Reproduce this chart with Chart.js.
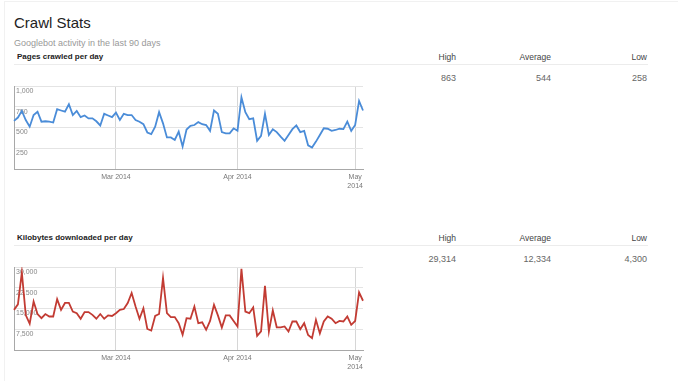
<!DOCTYPE html>
<html>
<head>
<meta charset="utf-8">
<script src="https://cdn.jsdelivr.net/npm/chart.js@4.4.0/dist/chart.umd.min.js"></script>
<style>
  html, body { margin: 0; padding: 0; background: #fff; }
  body { width: 678px; height: 381px; position: relative; overflow: hidden;
         font-family: Arial, "Liberation Sans", sans-serif; }
  .abs { position: absolute; white-space: nowrap; }
  #frame { left: 4px; top: 1px; width: 700px; height: 400px;
           border-left: 1px solid #f1f1f1; border-top: 1px solid #f1f1f1; }
  .title { left: 14px; top: 15px; font-size: 15px; line-height: 15px; color: #222; }
  .sub { left: 14px; top: 39px; font-size: 9px; line-height: 9px; color: #999; }
  .sect { left: 17px; font-size: 8px; line-height: 8px; font-weight: bold; color: #222; }
  .sep { left: 14px; width: 634px; height: 1px; background: #ececec; }
  .hd { font-size: 8.5px; line-height: 8.5px; color: #444; width: 100px; text-align: right; }
  .val { font-size: 9px; line-height: 9px; color: #666; width: 100px; text-align: right; }
  canvas { position: absolute; left: 0; }
</style>
</head>
<body>
<div id="frame" class="abs"></div>
<div class="abs title">Crawl Stats</div>
<div class="abs sub">Googlebot activity in the last 90 days</div>

<div class="abs sect" style="top:53px">Pages crawled per day</div>
<div class="abs sep" style="top:64px"></div>
<div class="abs hd" style="left:356px;top:53px">High</div>
<div class="abs hd" style="left:451px;top:53px">Average</div>
<div class="abs hd" style="left:547px;top:53px">Low</div>
<div class="abs val" id="p_high" style="left:356px;top:73.5px"></div>
<div class="abs val" id="p_avg" style="left:451px;top:73.5px"></div>
<div class="abs val" id="p_low" style="left:547px;top:73.5px"></div>
<canvas id="c1" width="380" height="115" style="top:80px"></canvas>

<div class="abs sect" style="top:234px">Kilobytes downloaded per day</div>
<div class="abs sep" style="top:245px"></div>
<div class="abs hd" style="left:356px;top:234px">High</div>
<div class="abs hd" style="left:451px;top:234px">Average</div>
<div class="abs hd" style="left:547px;top:234px">Low</div>
<div class="abs val" id="k_high" style="left:356px;top:254.5px"></div>
<div class="abs val" id="k_avg" style="left:451px;top:254.5px"></div>
<div class="abs val" id="k_low" style="left:547px;top:254.5px"></div>
<canvas id="c2" width="380" height="115" style="top:261px"></canvas>

<script>
// ---- data ----
const startDate = "2014-02-03";           // first day shown
const pagesPerDay = [
  580, 620, 700, 590, 510, 650, 690, 570, 575, 570,
  560, 720, 705, 690, 780, 650, 700, 625, 645, 610,
  610, 575, 525, 665, 645, 625, 680, 590, 665, 650,
  650, 590, 570, 540, 440, 420, 510, 685, 550, 380,
  380, 350, 450, 270, 475, 520, 530, 565, 540, 530,
  460, 705, 665, 445, 430, 430, 490, 460, 863, 685,
  600, 610, 340, 400, 665, 410, 480, 445, 390, 340,
  410, 480, 525, 445, 460, 285, 258, 330, 410, 490,
  485, 460, 470, 485, 480, 570, 460, 530, 820, 705
];
const kbPerDay = [
  14500, 16500, 28000, 12600, 9500, 17500, 13000, 11500, 13000, 12100,
  12100, 18400, 14500, 17000, 17000, 13900, 13300, 11300, 13700, 13700,
  12700, 11300, 13000, 11300, 12500, 12300, 13300, 14500, 14800, 17000,
  20600, 15700, 11300, 15100, 7600, 7000, 12300, 13000, 26000, 13300,
  11900, 11900, 9700, 5500, 11500, 11300, 15700, 9700, 10000, 7300,
  10500, 16300, 12500, 8100, 12500, 12500, 10500, 8500, 29314, 13900,
  13300, 15400, 5100, 6700, 23200, 6700, 14300, 8200, 8200, 8500,
  6700, 10300, 10300, 7500, 9700, 5400, 4300, 10900, 6000, 10300,
  12100, 11300, 9700, 10500, 10300, 12100, 9100, 10500, 20800, 17800
];
const pagesSummary = ["863", "544", "258"];       // High, Average, Low
const kbSummary = ["29,314", "12,334", "4,300"];
const monthTickIndex = [26, 57, 87];              // Mar 1, Apr 1, May 1
const monthTickLabels = ["Mar 2014", "Apr 2014", ["May", "2014"]];
const pagesYTicks = [0, 250, 500, 750, 1000];
const kbYTicks = [0, 7500, 15000, 22500, 30000];

// ---- categories (one per day) ----
const days = [];
{
  const d0 = new Date(startDate + "T00:00:00Z");
  for (let i = 0; i < pagesPerDay.length; i++) {
    const d = new Date(d0.getTime() + i * 86400000);
    days.push(d.toISOString().slice(0, 10));
  }
}

document.getElementById('p_high').textContent = pagesSummary[0];
document.getElementById('p_avg').textContent = pagesSummary[1];
document.getElementById('p_low').textContent = pagesSummary[2];
document.getElementById('k_high').textContent = kbSummary[0];
document.getElementById('k_avg').textContent = kbSummary[1];
document.getElementById('k_low').textContent = kbSummary[2];

const FONT = 'Arial, "Liberation Sans", sans-serif';

function makeChart(id, values, color, yTicks) {
  return new Chart(document.getElementById(id), {
    type: 'line',
    data: {
      labels: days,
      datasets: [{
        data: values,
        borderColor: color,
        borderWidth: 1.8,
        pointRadius: 0,
        pointHoverRadius: 0,
        tension: 0,
        fill: false
      }]
    },
    options: {
      responsive: false,
      animation: false,
      events: [],
      layout: { padding: { left: 14, right: 17, top: 6, bottom: 0 } },
      plugins: { legend: { display: false }, tooltip: { enabled: false } },
      scales: {
        x: {
          type: 'category',
          offset: false,
          afterBuildTicks: (s) => { s.ticks = monthTickIndex.map(v => ({ value: v })); },
          afterFit: (s) => { s.height = 26; s.paddingLeft = 0; s.paddingRight = 0; },
          grid: { color: '#d6d6d6', drawTicks: false, lineWidth: 1 },
          border: { color: '#a8a8a8', width: 1 },
          ticks: {
            autoSkip: false, maxRotation: 0, minRotation: 0,
            padding: 4,
            color: '#777',
            font: { family: FONT, size: 7, lineHeight: 1.25 },
            callback: (v, i) => monthTickLabels[i]
          }
        },
        y: {
          min: yTicks[0],
          max: yTicks[yTicks.length - 1],
          afterBuildTicks: (s) => { s.ticks = yTicks.map(v => ({ value: v })); },
          afterFit: (s) => { s.width = 0; s.paddingTop = 0; s.paddingBottom = 0; },
          grid: { color: '#e4e4e4', drawTicks: false, lineWidth: 1 },
          border: { color: '#a8a8a8', width: 1 },
          ticks: {
            mirror: true,
            padding: 2,
            labelOffset: 5,
            color: '#888',
            font: { family: FONT, size: 7 },
            callback: (v) => v === 0 ? '' : Number(v).toLocaleString('en-US')
          }
        }
      }
    }
  });
}

makeChart('c1', pagesPerDay, '#4a8cd8', pagesYTicks);
makeChart('c2', kbPerDay, '#c23b33', kbYTicks);
</script>
</body>
</html>
